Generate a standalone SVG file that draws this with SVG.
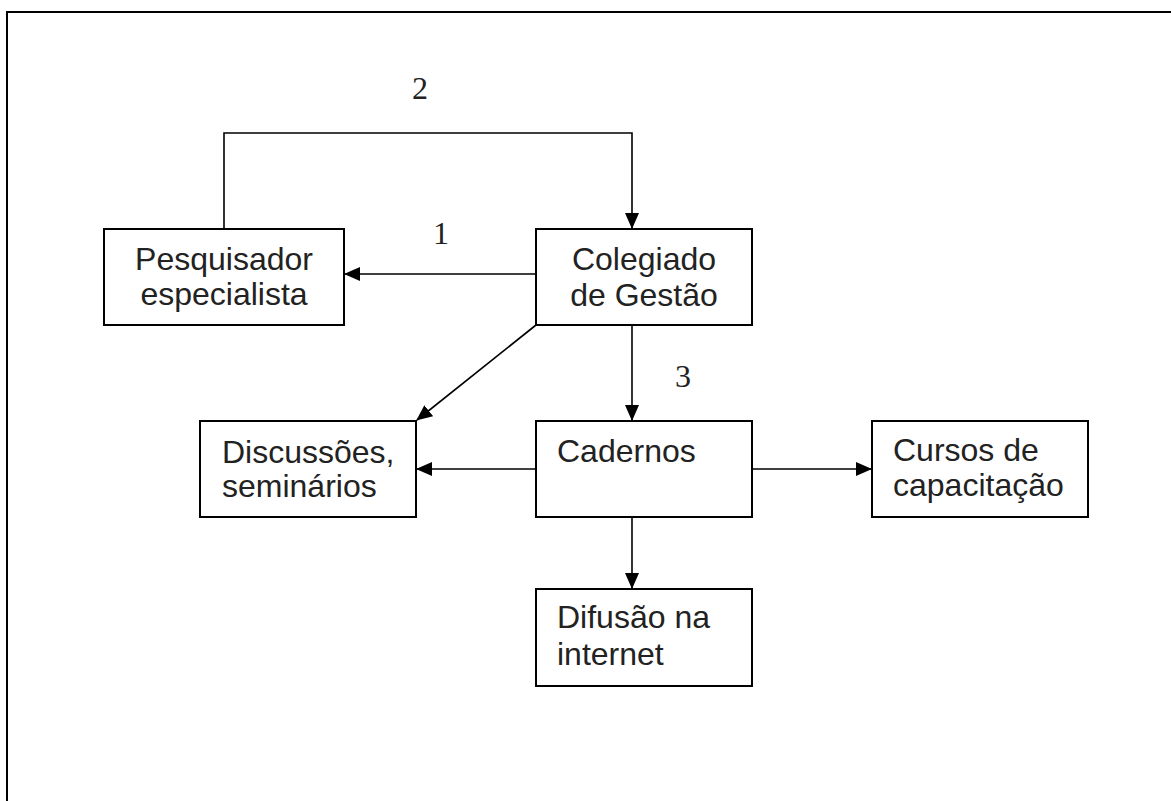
<svg xmlns="http://www.w3.org/2000/svg" width="1171" height="801" viewBox="0 0 1171 801">
<defs>
<style>
.box{fill:#fff;stroke:#000;stroke-width:2}
.t{font-family:"Liberation Sans",Arial,sans-serif;font-size:32px;fill:#222}
.n{font-family:"Liberation Serif","Times New Roman",serif;font-size:32px;fill:#222}
.c{fill:none;stroke:#000;stroke-width:1.6}
</style>
<marker id="ah" markerUnits="userSpaceOnUse" markerWidth="16" markerHeight="14" viewBox="0 0 16 14" refX="15" refY="7" orient="auto">
<path d="M0,0 L16,7 L0,14 z" fill="#000"/>
</marker>
</defs>
<rect x="0" y="0" width="1171" height="801" fill="#fff"/>
<rect x="7" y="12" width="1220" height="900" fill="none" stroke="#000" stroke-width="2"/>
<g id="connectors">
<path class="c" d="M224,229 V133 H632 V228" marker-end="url(#ah)"/>
<path class="c" d="M536,274 H345" marker-end="url(#ah)"/>
<path class="c" d="M536,325 L417,420" marker-end="url(#ah)"/>
<path class="c" d="M632,325 V420" marker-end="url(#ah)"/>
<path class="c" d="M536,469 H417" marker-end="url(#ah)"/>
<path class="c" d="M752,469 H871" marker-end="url(#ah)"/>
<path class="c" d="M632,517 V588" marker-end="url(#ah)"/>
<text class="n" x="420" y="99" text-anchor="middle">2</text>
<text class="n" x="441" y="244" text-anchor="middle">1</text>
<text class="n" x="683" y="387" text-anchor="middle">3</text>
</g>
<g id="pesquisador">
<rect class="box" x="104" y="229" width="240" height="96"/>
<text class="t" x="224" y="270" text-anchor="middle">Pesquisador</text>
<text class="t" x="224" y="305" text-anchor="middle">especialista</text>
</g>
<g id="colegiado">
<rect class="box" x="536" y="229" width="216" height="96"/>
<text class="t" x="644" y="270" text-anchor="middle">Colegiado</text>
<text class="t" x="644" y="306" text-anchor="middle">de Gestão</text>
</g>
<g id="discussoes">
<rect class="box" x="200" y="421" width="216" height="96"/>
<text class="t" x="222" y="463">Discussões,</text>
<text class="t" x="222" y="497">seminários</text>
</g>
<g id="cadernos">
<rect class="box" x="536" y="421" width="216" height="96"/>
<text class="t" x="557" y="462">Cadernos</text>
</g>
<g id="cursos">
<rect class="box" x="872" y="421" width="216" height="96"/>
<text class="t" x="893" y="461">Cursos de</text>
<text class="t" x="893" y="496">capacitação</text>
</g>
<g id="difusao">
<rect class="box" x="536" y="589" width="216" height="97"/>
<text class="t" x="557" y="628">Difusão na</text>
<text class="t" x="557" y="665">internet</text>
</g>
</svg>
